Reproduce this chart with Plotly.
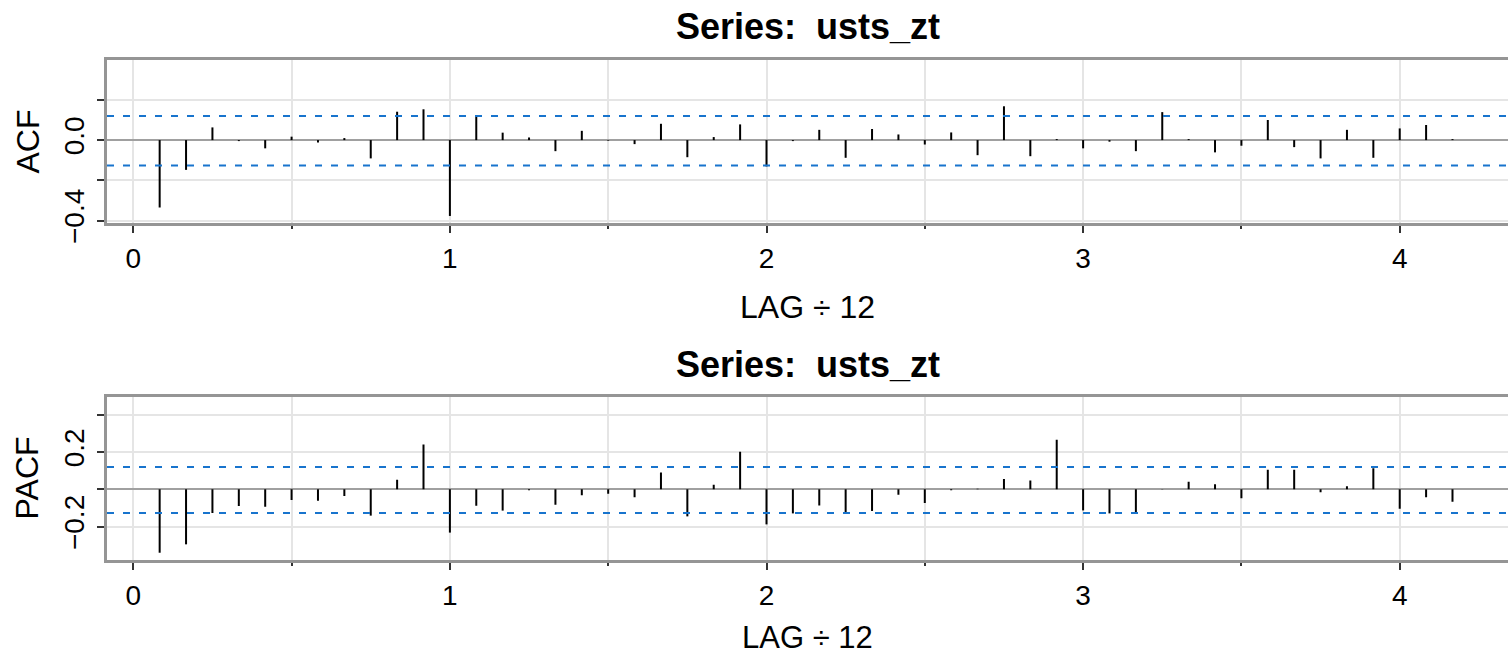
import plotly.graph_objects as go

lags = list(range(1, 51))
acf_vals = [-0.335, -0.148, 0.063, -0.005, -0.041, 0.017, -0.012, 0.010, -0.091, 0.141,
            0.153, -0.377, 0.115, 0.037, 0.013, -0.055, 0.046, -0.003, -0.020, 0.081,
            -0.085, 0.015, 0.078, -0.131, -0.005, 0.051, -0.088, 0.055, 0.028, -0.022,
            0.038, -0.075, 0.168, -0.080, 0.005, -0.041, -0.008, -0.055, 0.139, 0.005,
            -0.061, -0.028, 0.100, -0.035, -0.091, 0.051, -0.088, 0.058, 0.075, 0.005]
pacf_vals = [-0.340, -0.295, -0.127, -0.089, -0.093, -0.057, -0.061, -0.036, -0.141, 0.052,
             0.241, -0.232, -0.088, -0.114, -0.005, -0.082, -0.032, -0.023, -0.043, 0.091,
             -0.145, 0.025, 0.202, -0.188, -0.129, -0.086, -0.127, -0.116, -0.029, -0.073,
             -0.005, 0.003, 0.055, 0.048, 0.266, -0.113, -0.129, -0.130, 0.002, 0.041,
             0.027, -0.048, 0.105, 0.105, -0.016, 0.016, 0.113, -0.104, -0.043, -0.066]
n_obs = 264
upper = -1 / n_obs + 2 / n_obs ** 0.5
lower = -1 / n_obs - 2 / n_obs ** 0.5
title_text = "Series:  usts_zt"
x_title = "LAG ÷ 12"
freq = 12

W, H = 1508, 656
L = 107
FONT = "Liberation Sans, Arial, sans-serif"
GRID = "#e5e5e5"
BORDER = "#959595"


def py(px):
    return 1 - px / H


def px_x(px):
    return (px - L) / (W - L)


fig = go.Figure()


def stems(vals, xa, ya):
    xs, ys = [], []
    for lag, v in zip(lags, vals):
        xs += [lag / freq, lag / freq, None]
        ys += [0, v, None]
    fig.add_trace(go.Scatter(x=xs, y=ys, mode="lines", xaxis=xa, yaxis=ya,
                             line=dict(color="black", width=2),
                             showlegend=False, hoverinfo="skip"))


stems(acf_vals, "x", "y")
stems(pacf_vals, "x2", "y2")

for yref in ["y", "y2"]:
    for val in [upper, lower]:
        fig.add_shape(type="line", xref=("x" if yref == "y" else "x2") + " domain",
                      yref=yref, x0=0, x1=1, y0=val, y1=val,
                      line=dict(color="#1874CD", width=2, dash="7px,9px"))

xcommon = dict(range=[-0.083, 4.342], tick0=0, dtick=1, ticks="outside", ticklen=7,
               tickwidth=1.5, tickcolor="#333", showgrid=True, gridcolor=GRID, gridwidth=2,
               minor=dict(dtick=0.5, tick0=0, ticks="outside", ticklen=3, tickwidth=1.5,
                          tickcolor="#333", showgrid=True, gridcolor=GRID, gridwidth=2),
               showline=True, mirror=True, linecolor=BORDER, linewidth=2.5,
               zeroline=False, automargin=False,
               tickfont=dict(size=28, color="black", family=FONT),
               ticklabelstandoff=2)
ycommon = dict(ticks="outside", ticklen=7, tickwidth=1.5, tickcolor="#333",
               showgrid=True, gridcolor=GRID, gridwidth=2,
               showline=True, mirror=False, linecolor=BORDER, linewidth=2.5,
               zeroline=True, zerolinecolor="#a0a0a0", zerolinewidth=2,
               tickangle=-90, tickformat=".1f", automargin=False,
               tickfont=dict(size=28, color="black", family=FONT), ticklabelstandoff=2)

fig.update_layout(
    width=W, height=H, margin=dict(l=L, r=0, t=0, b=0),
    paper_bgcolor="white", plot_bgcolor="white",
    font=dict(family=FONT, color="black"),
    xaxis=dict(domain=[0, 1], anchor="y", **xcommon),
    yaxis=dict(domain=[py(223), py(60)], anchor="x", range=[-0.412, 0.398],
               tick0=-0.4, dtick=0.4,
               minor=dict(dtick=0.2, tick0=0, ticks="outside", ticklen=7, tickwidth=1.5,
                          tickcolor="#333", showgrid=True, gridcolor=GRID, gridwidth=2),
               **ycommon),
    xaxis2=dict(domain=[0, 1], anchor="y2", **xcommon),
    yaxis2=dict(domain=[py(560), py(396.7)], anchor="x2", range=[-0.379, 0.497],
                tick0=-0.2, dtick=0.4,
                minor=dict(dtick=0.2, tick0=0, ticks="outside", ticklen=7, tickwidth=1.5,
                           tickcolor="#333", showgrid=True, gridcolor=GRID, gridwidth=2),
                **ycommon),
)

ann = [
    dict(text="<b>" + title_text + "</b>", y=py(27), anchor="middle", size=36),
    dict(text="<b>" + title_text + "</b>", y=py(364), anchor="middle", size=36),
    dict(text=x_title, y=py(307), anchor="middle", size=32),
    dict(text=x_title, y=0.0, anchor="bottom", size=31),
]
for a in ann:
    fig.add_annotation(text=a["text"], x=0.5, y=a["y"], xref="paper", yref="paper",
                       xanchor="center", yanchor=a["anchor"], showarrow=False,
                       borderpad=0,
                       font=dict(size=a["size"], family=FONT, color="black"))

for label, yc in [("ACF", 141.5), ("PACF", 478.4)]:
    fig.add_annotation(text=label, x=px_x(27), y=py(yc), xref="paper", yref="paper",
                       xanchor="center", yanchor="middle", showarrow=False, textangle=-90,
                       font=dict(size=32, family=FONT, color="black"))

fig.write_html("out.html")
